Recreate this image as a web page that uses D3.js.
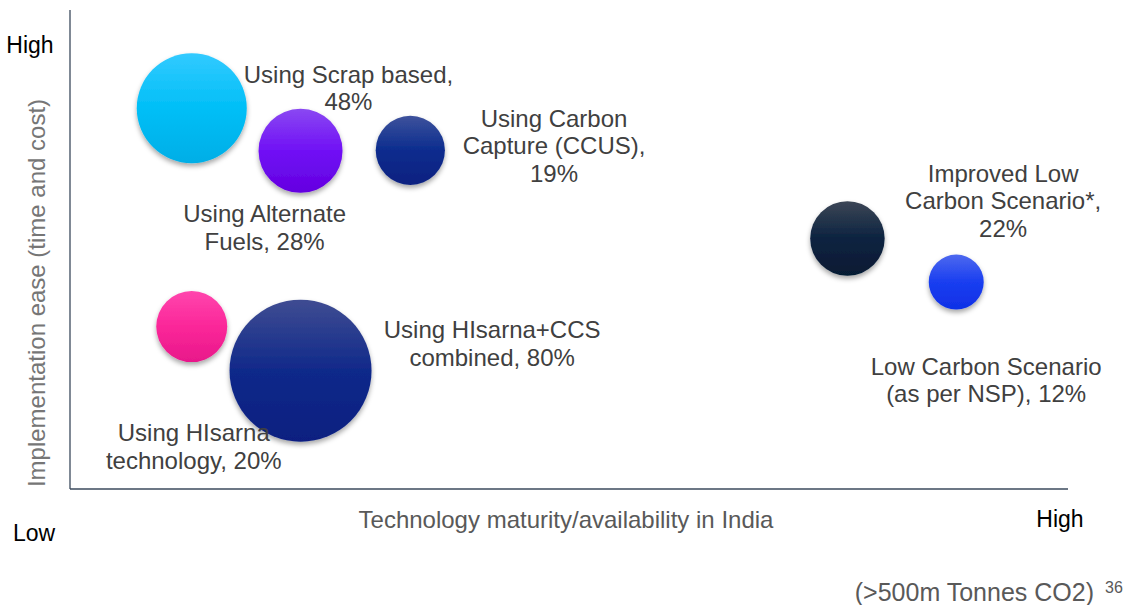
<!DOCTYPE html>
<meta charset="UTF-8">
<style>
    body { margin: 0; background: #fff; }
    text { font-family: "Liberation Sans", Arial, sans-serif; }
    .lbl { font-size: 24px; fill: #404040; }
    .axis-line { stroke: #3b4a5c; stroke-width: 1.3px; }
</style>
<body>
<div id="chart"></div>
<script src="https://cdn.jsdelivr.net/npm/d3@7"></script>
<script>
    // bubble data: position on the two axes (0-100), share (%) drives bubble size
    var names = ["scrap", "altfuel", "ccus", "improved", "nsp", "hisarna", "hisarnaccs"];
    var xVals = [12.2, 23.1, 34.1, 77.9, 88.8, 12.2, 23.1];
    var yVals = [79.5, 70.6, 70.7, 52.3, 43.2, 33.9, 24.7];
    var shares = [48, 28, 19, 22, 12, 20, 80];
    var colors = [
        ["#33caff", "#00bff7", "#00aee6"],
        ["#8a48f2", "#7010f5", "#6400e0"],
        ["#3e529c", "#0b2c8e", "#0a2180"],
        ["#3c4656", "#0c2340", "#061a33"],
        ["#4d69ef", "#1a3ef0", "#0f30e6"],
        ["#ff45ad", "#fb2799", "#e8188a"],
        ["#3f4c92", "#10298a", "#0a1f80"]
    ];

    // text labels: lines, anchor point (first baseline) in data units
    var labelLines = [
        ["Using Scrap based,", "48%"],
        ["Using Alternate", "Fuels, 28%"],
        ["Using Carbon", "Capture (CCUS),", "19%"],
        ["Improved Low", "Carbon Scenario*,", "22%"],
        ["Low Carbon Scenario", "(as per NSP), 12%"],
        ["Using HIsarna", "technology, 20%"],
        ["Using HIsarna+CCS", "combined, 80%"]
    ];
    var labelX = [27.9, 19.5, 48.5, 93.5, 91.8, 12.4, 42.3];
    var labelY = [84.8, 55.7, 75.6, 64.1, 23.8, 10.0, 31.5];

    var width = 1131, height = 605;

    var svg = d3.select("#chart").append("svg")
            .attr("width", width)
            .attr("height", height);

    var x = d3.scaleLinear().domain([0, 100]).range([70, 1068]);
    var y = d3.scaleLinear().domain([0, 100]).range([489, 10]);
    var r = d3.scaleSqrt().domain([0, 80]).range([0, 71]);

    var defs = svg.append("defs");

    var shadow = defs.append("filter")
            .attr("id", "shadow")
            .attr("x", "-30%").attr("y", "-30%")
            .attr("width", "160%").attr("height", "170%");
    shadow.append("feDropShadow")
            .attr("dx", 0).attr("dy", 3)
            .attr("stdDeviation", 2.5)
            .attr("flood-color", "#000")
            .attr("flood-opacity", 0.35);

    names.forEach(function (n, i) {
        var g = defs.append("linearGradient")
                .attr("id", "grad-" + n)
                .attr("x1", 0).attr("y1", 0).attr("x2", 0).attr("y2", 1);
        g.append("stop").attr("offset", "0%").attr("stop-color", colors[i][0]);
        g.append("stop").attr("offset", "50%").attr("stop-color", colors[i][1]);
        g.append("stop").attr("offset", "100%").attr("stop-color", colors[i][2]);
    });

    // axes (no ticks, just the two lines)
    svg.append("line").attr("class", "axis-line")
            .attr("x1", x(0)).attr("x2", x(0))
            .attr("y1", y(100)).attr("y2", y(0));
    svg.append("line").attr("class", "axis-line")
            .attr("x1", x(0)).attr("x2", x(100))
            .attr("y1", y(0)).attr("y2", y(0));

    // bubbles
    svg.selectAll("circle.bubble")
            .data(names)
            .enter().append("circle")
            .attr("class", "bubble")
            .attr("cx", function (d, i) { return x(xVals[i]); })
            .attr("cy", function (d, i) { return y(yVals[i]); })
            .attr("r", function (d, i) { return r(shares[i]); })
            .style("fill", function (d) { return "url(#grad-" + d + ")"; })
            .attr("filter", "url(#shadow)");

    // labels
    var lineH = 27.5;
    svg.selectAll("text.lbl")
            .data(labelLines)
            .enter().append("text")
            .attr("class", "lbl")
            .attr("text-anchor", "middle")
            .attr("transform", function (d, i) {
                return "translate(" + x(labelX[i]) + "," + y(labelY[i]) + ")";
            })
            .each(function (lines) {
                var t = d3.select(this);
                lines.forEach(function (l, k) {
                    t.append("tspan")
                            .attr("x", 0)
                            .attr("y", k * lineH)
                            .text(l);
                });
            });

    // axis end labels and titles
    svg.append("text").attr("x", 30).attr("y", 53)
            .attr("text-anchor", "middle")
            .style("font-size", "23px").style("fill", "#000")
            .text("High");
    svg.append("text").attr("x", 34).attr("y", 541)
            .attr("text-anchor", "middle")
            .style("font-size", "23px").style("fill", "#000")
            .text("Low");
    svg.append("text").attr("x", 1060).attr("y", 527)
            .attr("text-anchor", "middle")
            .style("font-size", "23px").style("fill", "#000")
            .text("High");
    svg.append("text").attr("x", 566).attr("y", 528)
            .attr("text-anchor", "middle")
            .style("font-size", "24px").style("fill", "#595959")
            .text("Technology maturity/availability in India");
    svg.append("text")
            .attr("transform", "translate(45,293) rotate(-90)")
            .attr("text-anchor", "middle")
            .style("font-size", "24px").style("fill", "#767676")
            .text("Implementation ease (time and cost)");

    // footnote
    svg.append("text").attr("x", 1094).attr("y", 601)
            .attr("text-anchor", "end")
            .style("font-size", "25px").style("fill", "#595959")
            .text("(>500m Tonnes CO2)");
    svg.append("text").attr("x", 1105).attr("y", 593)
            .attr("text-anchor", "start")
            .style("font-size", "16px").style("fill", "#595959")
            .text("36");
</script>
</body>
